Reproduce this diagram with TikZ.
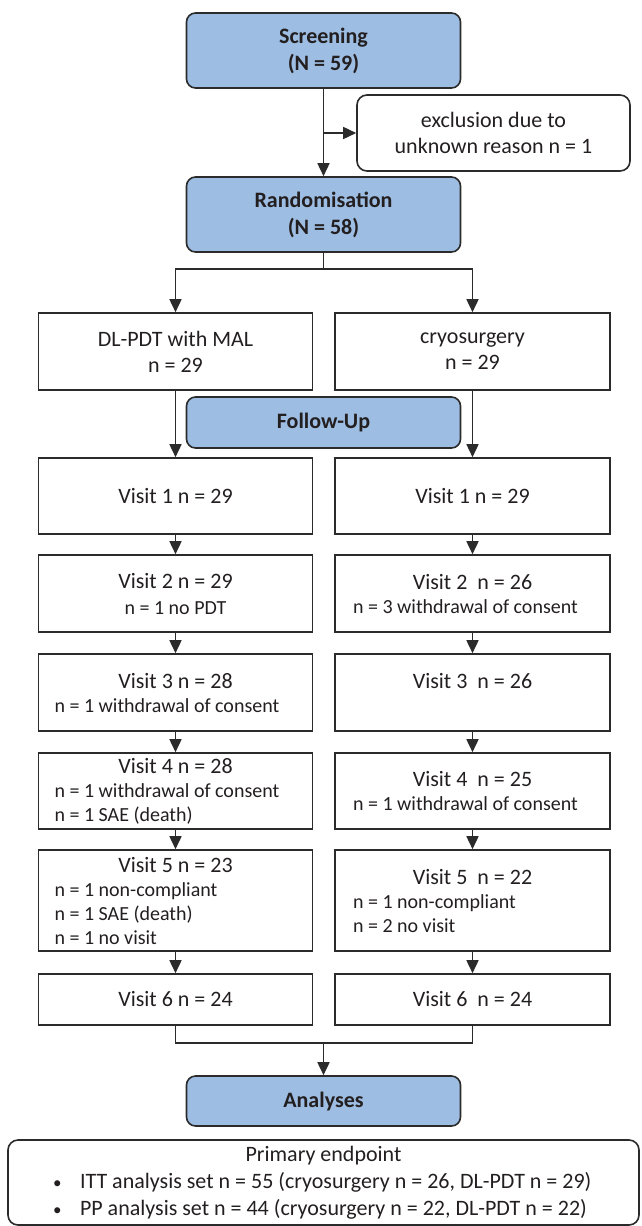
\documentclass[tikz,border=0pt]{standalone}
\usepackage{fontspec}
\setmainfont{Carlito}
\usetikzlibrary{arrows.meta}
\definecolor{stageblue}{HTML}{9DBDE2}
\definecolor{ink}{HTML}{231F20}
\definecolor{edge}{HTML}{2B2B2B}
\newcommand{\vtitle}[1]{{\fontsize{22}{26}\selectfont\makebox[\linewidth]{#1}}}
\newcommand{\epbullet}{\hspace*{15pt}\makebox[27pt][l]{\fontsize{17}{27}\selectfont\textbullet}}
\begin{document}
\begin{tikzpicture}[x=1pt, y=-1pt, every node/.style={text=ink, font=\fontsize{22}{26}\selectfont, execute at begin node={\spaceskip=0pt\xspaceskip=0pt\relax}}]
    \tikzstyle{stage} = [rectangle, draw=edge, fill=stageblue, rounded corners=9pt, line width=1.6pt, minimum width=274pt, inner sep=0pt, align=center, font=\fontsize{22}{27}\selectfont\bfseries]
    \tikzstyle{note} = [rectangle, draw=edge, rounded corners=10pt, line width=1.6pt, inner sep=0pt, align=center]
    \tikzstyle{arm} = [rectangle, draw=edge, line width=1.6pt, minimum width=274pt, inner sep=0pt, align=center]
    \tikzstyle{armleft} = [arm, text width=242pt, align=left, font=\fontsize{20}{24}\selectfont]
    \tikzstyle{armright} = [arm, minimum width=275pt, text width=239pt, align=left, font=\fontsize{20}{24}\selectfont]
    \tikzstyle{arrow} = [line width=1.6pt, draw=edge, -{Triangle[length=13pt,width=12pt]}]
    \tikzstyle{line} = [line width=1.6pt, draw=edge]

    \useasboundingbox (0,0) rectangle (641,1226);

    % screening and randomisation
    \node [stage, minimum height=75pt] (screen) at (323.5,50.5) {Screening\\(N = 59)};
    \node [note, minimum width=273pt, minimum height=76pt] (excl) at (493.5,133) {exclusion due to\\unknown reason n = 1};
    \node [stage, minimum height=75pt] (random) at (323.5,214.5) {Randomisation\\(N = 58)};

    % treatment arms
    \node [arm, minimum height=77pt] (pdt) at (175.5,351.5) {DL-PDT with MAL\\n = 29};
    \node [arm, minimum width=275pt, minimum height=77pt] (cryo) at (472.5,351.5) {cryosurgery\\n = 29};
    \node [stage, minimum height=51pt] (follow) at (323.5,422.5) {Follow-Up};

    % visits
    \node [arm, minimum height=76pt] (pdt1) at (175.5,496) {Visit 1 n = 29};
    \node [arm, minimum width=275pt, minimum height=76pt] (cryo1) at (472.5,496) {Visit 1 n = 29};
    \node [arm, minimum height=77pt] (pdt2) at (175.5,593.5) {Visit 2 n = 29\\{\fontsize{20}{24}\selectfont n = 1 no PDT}};
    \node [armright, minimum height=77pt] (cryo2) at (472.5,593.5) {\vtitle{Visit 2\ \ n = 26}\\n = 3 withdrawal of consent};
    \node [armleft, minimum height=77pt] (pdt3) at (175.5,692.5) {\vtitle{Visit 3 n = 28}\\n = 1 withdrawal of consent};
    \node [armright, minimum height=77pt] (cryo3) at (472.5,692.5) {\vtitle{Visit 3\ \ n = 26}\\\mbox{}};
    \node [armleft, minimum height=76pt] (pdt4) at (175.5,791) {\vtitle{Visit 4 n = 28}\\n = 1 withdrawal of consent\\n = 1 SAE (death)};
    \node [armright, minimum height=76pt] (cryo4) at (472.5,791) {\vtitle{Visit 4\ \ n = 25}\\n = 1 withdrawal of consent};
    \node [armleft, minimum height=101pt] (pdt5) at (175.5,900.5) {\vtitle{Visit 5 n = 23}\\n = 1 non-compliant\\n = 1 SAE (death)\\n = 1 no visit};
    \node [armright, minimum height=101pt] (cryo5) at (472.5,900.5) {\vtitle{Visit 5\ \ n = 22}\\n = 1 non-compliant\\n = 2 no visit};
    \node [arm, minimum height=51pt] (pdt6) at (175.5,999.5) {Visit 6 n = 24};
    \node [arm, minimum width=275pt, minimum height=51pt] (cryo6) at (472.5,999.5) {Visit 6\ \ n = 24};

    % analyses
    \node [stage, minimum height=50pt] (analyses) at (323.5,1101) {Analyses};
    \node [note, text width=571pt, inner xsep=30pt, minimum height=85pt, align=left, font=\fontsize{22}{27}\selectfont] (endpoint) at (323.5,1182.5)
        {\makebox[\linewidth]{Primary endpoint}\\
         \epbullet ITT analysis set n = 55 (cryosurgery n = 26, DL-PDT n = 29)\\
         \epbullet PP analysis set n = 44 (cryosurgery n = 22, DL-PDT n = 22)};

    \coordinate (split) at (323.5,269);
    \coordinate (merge) at (323.5,1043);

    \draw [arrow] (screen) -- (random);
    \draw [arrow] (screen.south |- excl.west) -- (excl);
    \draw [line] (random) -- (split);
    \draw [arrow] (split) -| (pdt);
    \draw [arrow] (split) -| (cryo);
    \foreach \arm in {pdt,cryo} {
        \draw [arrow] (\arm) -- (\arm1);
        \foreach \i [count=\j from 2] in {1,...,5}
            \draw [arrow] (\arm\i) -- (\arm\j);
    }
    \draw [line] (pdt6) |- (merge) -| (cryo6);
    \draw [arrow] (merge) -- (analyses);
\end{tikzpicture}
\end{document}
